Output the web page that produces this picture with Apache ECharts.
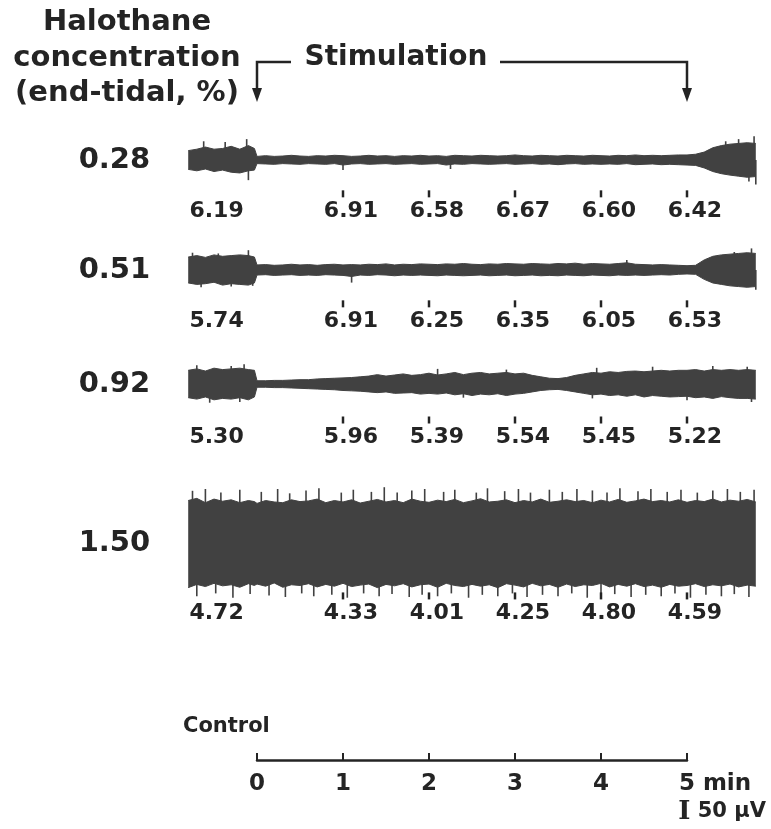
<!DOCTYPE html>
<html>
<head>
<meta charset="utf-8">
<script src="https://cdn.jsdelivr.net/npm/echarts@6/dist/echarts.min.js"></script>
<style>
  html, body { margin: 0; background: #fff; }
  #main { width: 771px; height: 829px; }
</style>
</head>
<body>
<div id="main"></div>
<script>
// time of each envelope sample, minutes (0 = start of stimulation)
const minutes = [-0.8,-0.7,-0.6,-0.5,-0.4,-0.3,-0.2,-0.1,-0.03,
  0,0.1,0.2,0.3,0.4,0.5,0.6,0.7,0.8,0.9,
  1,1.1,1.2,1.3,1.4,1.5,1.6,1.7,1.8,1.9,
  2,2.1,2.2,2.3,2.4,2.5,2.6,2.7,2.8,2.9,
  3,3.1,3.2,3.3,3.4,3.5,3.6,3.7,3.8,3.9,
  4,4.1,4.2,4.3,4.4,4.5,4.6,4.7,4.8,4.9,
  5,5.1,5.2,5.3,5.4,5.5,5.6,5.7,5.8];

const concentrations = ['0.28', '0.51', '0.92', '1.50'];

// EEG envelope (µV), upper and lower edge of the dense part of each trace
const upper028 = [26,30,36,30,32,38,30,40,32,
  10,12,10,11,13,11,10,12,11,13,
  12,10,11,13,11,12,10,12,11,13,
  11,12,10,13,12,11,13,12,11,12,
  14,12,11,13,12,11,13,12,11,13,
  12,11,13,12,14,12,13,12,13,14,
  14,16,22,34,40,44,46,48,46];
const lower028 = [-26,-30,-25,-32,-28,-34,-36,-30,-28,
  -10,-11,-12,-10,-11,-12,-10,-11,-12,-10,
  -14,-11,-10,-12,-11,-10,-12,-11,-10,-12,
  -11,-10,-14,-11,-12,-10,-11,-12,-11,-10,
  -12,-11,-10,-12,-11,-13,-11,-10,-12,-11,
  -12,-11,-12,-10,-13,-12,-11,-13,-12,-13,
  -14,-15,-22,-32,-38,-42,-45,-48,-46];

const upper051 = [36,40,35,42,38,40,42,40,36,
  14,15,13,14,16,14,15,13,15,16,
  14,15,14,16,15,17,14,16,15,17,
  16,15,17,16,18,16,15,17,16,18,
  17,16,18,17,16,18,17,19,16,18,
  17,16,18,20,16,15,14,15,14,13,
  12,13,28,38,42,44,46,48,46];
const lower051 = [-36,-40,-38,-34,-42,-38,-40,-42,-36,
  -14,-13,-15,-14,-13,-15,-14,-15,-13,-14,
  -15,-18,-14,-15,-13,-14,-16,-14,-15,-14,
  -15,-16,-14,-15,-16,-15,-14,-16,-15,-14,
  -16,-15,-14,-16,-15,-16,-14,-15,-16,-14,
  -15,-16,-14,-15,-14,-15,-14,-13,-14,-12,
  -11,-12,-26,-36,-40,-44,-46,-48,-46];

const upper092 = [38,42,36,44,40,42,44,40,38,
  9,9,10,10,11,12,12,14,15,16,
  17,18,20,22,26,22,25,28,24,26,
  30,25,28,32,26,30,32,28,30,32,
  28,30,24,20,16,15,18,24,28,32,
  30,34,32,35,36,34,36,38,36,38,
  38,40,36,40,38,40,38,40,38];
const lower092 = [-38,-42,-36,-44,-40,-42,-38,-44,-36,
  -9,-9,-10,-10,-11,-12,-13,-14,-15,-16,
  -18,-19,-20,-22,-24,-22,-26,-25,-24,-28,
  -26,-28,-25,-30,-27,-32,-28,-30,-27,-32,
  -28,-26,-22,-18,-16,-15,-18,-22,-26,-30,
  -28,-32,-30,-34,-30,-36,-32,-34,-36,-35,
  -34,-38,-36,-40,-35,-38,-40,-40,-42];

const upper150 = [118,124,112,122,116,120,112,118,115,
  110,118,114,112,120,115,117,122,112,118,
  114,120,111,116,121,114,118,112,122,116,
  113,119,115,121,112,117,123,114,116,120,
  112,118,114,122,113,116,120,115,118,112,
  119,114,121,113,117,122,115,118,114,120,
  113,118,115,122,114,119,116,121,114];
const lower150 = [-124,-115,-121,-112,-119,-116,-123,-113,-118,
  -114,-120,-111,-123,-116,-118,-113,-122,-115,-120,
  -112,-121,-117,-114,-124,-115,-119,-113,-122,-116,
  -114,-123,-112,-118,-121,-115,-120,-116,-124,-113,
  -117,-122,-112,-119,-115,-123,-114,-121,-116,-118,
  -112,-122,-115,-120,-113,-121,-117,-123,-115,-120,
  -118,-113,-121,-116,-119,-114,-122,-117,-120];

// single spikes sticking out of the dense trace: time (min) and peak (µV)
const spikeT028 = [-0.62,-0.37,-0.12,-0.1,1.0,2.25,5.45,5.6,5.72,5.78,5.8];
const spikeV028 = [52,50,58,-56,-28,-25,52,58,-60,66,-68];
const spikeT051 = [-0.75,-0.65,-0.45,-0.3,-0.1,-0.05,1.1,4.3,5.55,5.75,5.8];
const spikeV051 = [48,-48,46,-46,55,-44,-35,28,50,60,-55];
const spikeT092 = [-0.7,-0.55,-0.3,-0.2,-0.15,2.1,2.4,2.9,3.9,3.95,4.6,5.0,5.3,5.7,5.75];
const spikeV092 = [52,-52,50,-50,55,42,-38,40,-40,45,48,-45,50,48,-50];
const spikeT150 = [-0.75,-0.6,-0.42,-0.2,0.05,0.24,0.38,0.57,0.72,0.98,1.12,1.33,1.48,1.63,1.8,1.95,2.17,2.3,2.55,2.68,2.88,3.04,3.18,3.4,3.55,3.72,3.9,4.07,4.22,4.43,4.58,4.77,4.93,5.12,5.3,5.47,5.62,5.78,
  -0.7,-0.48,-0.28,-0.08,0.14,0.33,0.52,0.66,0.87,1.05,1.24,1.42,1.57,1.77,1.92,2.1,2.26,2.46,2.62,2.8,2.97,3.14,3.32,3.5,3.66,3.84,4.0,4.16,4.35,4.52,4.7,4.86,5.04,5.22,5.4,5.55,5.72];
const spikeV150 = [145,150,140,148,142,150,138,146,152,140,148,142,155,140,146,150,142,148,140,152,144,150,140,148,142,150,146,140,152,144,150,142,148,140,146,150,142,148,
  -148,-140,-152,-142,-146,-150,-140,-148,-144,-152,-140,-148,-142,-150,-144,-148,-140,-152,-144,-148,-140,-150,-144,-148,-140,-152,-146,-142,-150,-144,-148,-140,-152,-144,-148,-142,-150];

const uppers = [upper028, upper051, upper092, upper150];
const lowers = [lower028, lower051, lower092, lower150];
const spikeTimes = [spikeT028, spikeT051, spikeT092, spikeT150];
const spikePeaks = [spikeV028, spikeV051, spikeV092, spikeV150];

// numbers printed under each trace: control, then at minutes 1..5
const controlValues = [6.19, 5.74, 5.30, 4.72];
const stimMinutes = [1, 2, 3, 4, 5];
const stimValues = [
  [6.91, 6.58, 6.67, 6.60, 6.42],
  [6.91, 6.25, 6.35, 6.05, 6.53],
  [5.96, 5.39, 5.54, 5.45, 5.22],
  [4.33, 4.01, 4.25, 4.80, 4.59]
];
const CONTROL_AT = -0.47;

// layout
const X0 = 257, PX_PER_MIN = 86, T_MIN = -0.8, T_MAX = 5.85;
const PX_PER_UV = 0.36, UV_TOP = 160, UV_BOTTOM = -250;
const traceCenters = [160, 270, 384, 543];
const tickUV = [-94, -94, -100, -147];
const INK = '#242424', TRACE = '#414141';
const FONT = 'DejaVu Sans';

const grids = [], xAxes = [], yAxes = [], series = [];

function envelope(i, values) {
  return {
    type: 'line', xAxisIndex: i, yAxisIndex: i,
    symbol: 'none', silent: true,
    lineStyle: { color: TRACE, width: 1 },
    areaStyle: { color: TRACE, opacity: 1, origin: 0 },
    data: minutes.map(function (t, k) { return [t, values[k]]; })
  };
}

traceCenters.forEach(function (cy, i) {
  grids.push({
    left: X0 + T_MIN * PX_PER_MIN,
    width: (T_MAX - T_MIN) * PX_PER_MIN,
    top: cy - UV_TOP * PX_PER_UV,
    height: (UV_TOP - UV_BOTTOM) * PX_PER_UV
  });
  xAxes.push({ gridIndex: i, type: 'value', min: T_MIN, max: T_MAX, show: false });
  yAxes.push({ gridIndex: i, type: 'value', min: UV_BOTTOM, max: UV_TOP, show: false });

  // the trace: area above zero up to the upper edge, below zero down to the lower edge
  series.push(envelope(i, uppers[i]));
  series.push(envelope(i, lowers[i]));

  // spikes, thin vertical strokes from the baseline
  series.push({
    type: 'custom', xAxisIndex: i, yAxisIndex: i, silent: true,
    renderItem: function (params, api) {
      const a = api.coord([api.value(0), 0]);
      const b = api.coord([api.value(0), api.value(1)]);
      return { type: 'line', shape: { x1: a[0], y1: a[1], x2: b[0], y2: b[1] },
        style: { stroke: TRACE, lineWidth: 1.6 } };
    },
    data: spikeTimes[i].map(function (t, k) { return [t, spikePeaks[i][k]]; })
  });

  // values at each minute, tick mark above the decimal point
  series.push({
    type: 'scatter', xAxisIndex: i, yAxisIndex: i, silent: true,
    symbol: 'rect', symbolSize: [2.5, 7],
    itemStyle: { color: INK, opacity: 1 },
    label: {
      show: true, position: 'bottom', distance: 3, offset: [8, 0],
      formatter: '{b}', color: INK, opacity: 1, fontFamily: FONT, fontWeight: 'bold', fontSize: 22
    },
    data: stimMinutes.map(function (m, k) {
      return { name: stimValues[i][k].toFixed(2), value: [m, tickUV[i]] };
    })
  });
  // control value
  series.push({
    type: 'scatter', xAxisIndex: i, yAxisIndex: i, silent: true,
    symbolSize: 0,
    itemStyle: { opacity: 1 },
    label: {
      show: true, position: 'bottom', distance: 3, offset: [0, 3.5],
      formatter: '{b}', color: INK, opacity: 1, fontFamily: FONT, fontWeight: 'bold', fontSize: 22
    },
    data: [{ name: controlValues[i].toFixed(2), value: [CONTROL_AT, tickUV[i]] }]
  });
  // halothane concentration at left
  series.push({
    type: 'scatter', xAxisIndex: i, yAxisIndex: i, silent: true,
    symbolSize: 0,
    itemStyle: { opacity: 1 },
    label: {
      show: true, position: 'left', distance: 38,
      formatter: '{b}', color: INK, opacity: 1, fontFamily: FONT, fontWeight: 'bold', fontSize: 29
    },
    data: [{ name: concentrations[i], value: [T_MIN, 0] }]
  });
});

// time scale bar 0..5 min
const AXIS_Y = 760;
grids.push({ left: X0, width: 5 * PX_PER_MIN, top: AXIS_Y - 20, height: 20 });
xAxes.push({
  gridIndex: 4, type: 'value', min: 0, max: 5, interval: 1, position: 'bottom',
  axisLine: { lineStyle: { color: INK, width: 2.5 } },
  axisTick: { inside: true, length: 7, lineStyle: { color: INK, width: 2 } },
  splitLine: { show: false },
  axisLabel: {
    margin: 13, color: INK, fontFamily: FONT, fontSize: 23, fontWeight: 'bold',
    formatter: function (v) {
      return v === 5 ? '{pad|}{n|5}{u| min}' : '{n|' + v + '}';
    },
    rich: {
      n: { fontFamily: FONT, fontSize: 23, fontWeight: 'bold', color: INK },
      u: { fontFamily: FONT, fontSize: 23, fontWeight: 'bold', color: INK },
      pad: { width: 56 }
    }
  }
});
yAxes.push({ gridIndex: 4, type: 'value', show: false });

// stimulation bracket
const xs = X0, xe = X0 + 5 * PX_PER_MIN, BY = 62, TIP = 102;
function arrowHead(x) {
  return { type: 'polygon', shape: { points: [[x - 5, TIP - 14], [x + 5, TIP - 14], [x, TIP]] },
    style: { fill: INK } };
}
function label(text, x, y, size, align) {
  return { type: 'text', x: x, y: y,
    style: { text: text, font: 'bold ' + size + 'px "' + FONT + '"', fill: INK,
      align: align || 'center', verticalAlign: 'middle' } };
}

const graphic = [
  label('Halothane', 127, 22, 29),
  label('concentration', 127, 58, 29),
  label('(end-tidal, %)', 127, 93, 29),
  label('Stimulation', 396, 58, 28),
  { type: 'polyline', shape: { points: [[xs + 34, BY], [xs, BY], [xs, TIP - 12]] }, style: { stroke: INK, lineWidth: 2.5, fill: null } },
  { type: 'polyline', shape: { points: [[500, BY], [xe, BY], [xe, TIP - 12]] }, style: { stroke: INK, lineWidth: 2.5, fill: null } },
  arrowHead(xs),
  arrowHead(xe),
  label('Control', 183, 727, 21, 'left'),
  { type: 'text', x: 766, y: 812,
    style: { text: '{bar|I} 50 µV', fill: INK, align: 'right', verticalAlign: 'middle',
      font: 'bold 21px "' + FONT + '"',
      rich: { bar: { fontFamily: 'DejaVu Serif', fontWeight: 'bold', fontSize: 26, fill: INK } } } }
];

const chart = echarts.init(document.getElementById('main'));
chart.setOption({
  backgroundColor: '#fff',
  animation: false,
  grid: grids,
  xAxis: xAxes,
  yAxis: yAxes,
  series: series,
  graphic: graphic
});
</script>
</body>
</html>
